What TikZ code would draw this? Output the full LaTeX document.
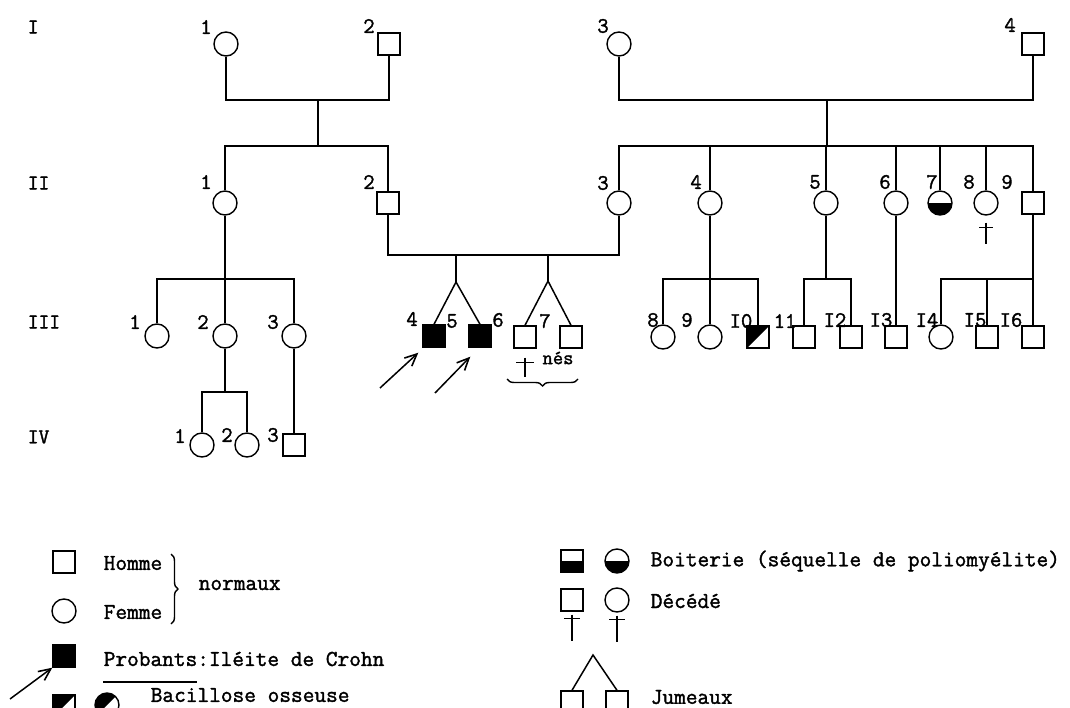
\documentclass[tikz,border=0pt]{standalone}
\usepackage{fontspec}
\newfontfamily\twfont[FakeBold=1.6]{Latin Modern Mono}
\usetikzlibrary{arrows.meta,decorations.pathreplacing}
\begin{document}
\begin{tikzpicture}[x=1pt,y=-1pt,line width=1.5pt,
  fem/.style={circle,draw,minimum size=24pt,inner sep=0pt,line width=1.4pt},
  mal/.style={rectangle,draw,minimum size=22pt,inner sep=0pt,line width=1.4pt},
  aff/.style={fill=black},
  halfb/.style={path picture={\fill (path picture bounding box.west) rectangle (path picture bounding box.south east);}},
  diag/.style={path picture={\fill (path picture bounding box.south west) -- (path picture bounding box.north west) -- (path picture bounding box.north east) -- cycle;}},
  num/.style={font=\fontsize{22}{22}\selectfont\twfont,inner sep=0pt},
  gen/.style={font=\fontsize{21}{21}\selectfont\twfont,inner sep=0pt,anchor=west},
  leg/.style={font=\fontsize{22.7}{22.7}\selectfont\twfont,inner sep=0pt,anchor=west},
  probarrow/.style={-{Straight Barb[length=12pt,width=11pt,line width=1.6pt]},line width=1.5pt},
  brc/.style={decorate,decoration={brace,amplitude=7pt},line width=1.4pt},
]
\useasboundingbox (0,0) rectangle (1070,708);

% generation labels
\node[gen] (gI) at (27,27) {I};
\node[gen] (gII) at (27,183) {II};
\node[gen] (gIII) at (27,322) {III};
\node[gen] (gIV) at (27,437) {IV};

% generation I
\node[fem] (I1) at (226,44) {};
\node[mal] (I2) at (389,44) {};
\node[fem] (I3) at (619,44) {};
\node[mal] (I4) at (1033,44) {};
\node[num] (lI1) at (206,27) {1};
\node[num] (lI2) at (369,26) {2};
\node[num] (lI3) at (603,26) {3};
\node[num] (lI4) at (1010,25) {4};

% generation II
\node[fem] (II1) at (225,203) {};
\node[mal] (II2) at (388,203) {};
\node[fem] (II3) at (619,203) {};
\node[fem] (II4) at (710,203) {};
\node[fem] (II5) at (826,203) {};
\node[fem] (II6) at (896,203) {};
\node[fem,halfb] (II7) at (940,203) {};
\node[fem] (II8) at (986,203) {};
\node[mal] (II9) at (1033,203) {};
\node[num] (lII1) at (206,182) {1};
\node[num] (lII2) at (369,182) {2};
\node[num] (lII3) at (603,183) {3};
\node[num] (lII4) at (696,182) {4};
\node[num] (lII5) at (815,182) {5};
\node[num] (lII6) at (885,182) {6};
\node[num] (lII7) at (932,182) {7};
\node[num] (lII8) at (969,182) {8};
\node[num] (lII9) at (1007,182) {9};

% generation III
\node[fem] (III1) at (157,336) {};
\node[fem] (III2) at (225,336) {};
\node[fem] (III3) at (294,336) {};
\node[mal,aff] (III4) at (434,336) {};
\node[mal,aff] (III5) at (480,336) {};
\node[mal] (III6) at (525,337) {};
\node[mal] (III7) at (571,337) {};
\node[fem] (III8) at (663,337) {};
\node[fem] (III9) at (710,337) {};
\node[mal,diag] (III10) at (758,337) {};
\node[mal] (III11) at (804,337) {};
\node[mal] (III12) at (851,337) {};
\node[mal] (III13) at (896,337) {};
\node[fem] (III14) at (941,337) {};
\node[mal] (III15) at (987,337) {};
\node[mal] (III16) at (1033,337) {};
\node[num] (lIII1) at (135,322) {1};
\node[num] (lIII2) at (203,322) {2};
\node[num] (lIII3) at (273,322) {3};
\node[num] (lIII4) at (412,319) {4};
\node[num] (lIII5) at (452,321) {5};
\node[num] (lIII6) at (498,320) {6};
\node[num] (lIII7) at (545,321) {7};
\node[num] (lIII8) at (653,320) {8};
\node[num] (lIII9) at (687,320) {9};
\node[num] (lIII10) at (741,321) {I0};
\node[num] (lIII11) at (785,321) {11};
\node[num] (lIII12) at (835,320) {I2};
\node[num] (lIII13) at (881,320) {I3};
\node[num] (lIII14) at (927,320) {I4};
\node[num] (lIII15) at (975,320) {I5};
\node[num] (lIII16) at (1011,320) {I6};

% generation IV
\node[fem] (IV1) at (202,445) {};
\node[fem] (IV2) at (247,445) {};
\node[mal] (IV3) at (294,445) {};
\node[num] (lIV1) at (180,436) {1};
\node[num] (lIV2) at (227,435) {2};
\node[num] (lIV3) at (273,435) {3};

% ---- connectors
\coordinate (m1) at (318,100);
\coordinate (s1) at (318,146);
\draw (I1) |- (m1) -| (I2);
\draw (m1) -- (s1);
\draw (II1) |- (s1) -| (II2);

\coordinate (m2) at (827,100);
\coordinate (s2) at (827,146);
\draw (I3) |- (m2) -| (I4);
\draw (m2) -- (s2);
\draw (II3) |- (s2) -| (II9);
\foreach \c in {II4,II5,II6,II7,II8} \draw (\c) -- (\c |- s2);

% marriage II2 x II3 and twins
\coordinate (t1) at (456,255);
\coordinate (t2) at (548,255);
\draw (II2) |- (t1) -- (t2) -| (II3);
\coordinate (a1) at (456,282);
\coordinate (a2) at (548,281);
\draw (t1) -- (a1);
\draw (t2) -- (a2);
\draw (III4.north) -- (a1) -- (III5.north);
\draw (III6.north) -- (a2) -- (III7.north);

% II1 children
\coordinate (s3) at (225,279);
\draw (II1) -- (III2);
\draw (III1) |- (s3) -| (III3);
% III2 children
\coordinate (s4) at (225,392);
\draw (III2) -- (s4);
\draw (IV1) |- (s4) -| (IV2);
\draw (III3) -- (IV3);

% II4 children
\coordinate (s5) at (710,279);
\draw (II4) -- (III9);
\draw (III8) |- (s5) -| (III10);
% II5 children
\coordinate (s6) at (826,279);
\draw (II5) -- (s6);
\draw (III11) |- (s6) -| (III12);
% II6 child
\draw (II6) -- (III13);
% II9 children
\coordinate (s7) at (1033,279);
\draw (II9) -- (III16);
\draw (III14) |- (s7);
\draw (III15) -- (III15 |- s7);

% deceased crosses
\draw ([yshift=-7pt]II8.south) -- ++(0,21);
\draw ([yshift=-12pt]II8.south) ++(-7,0) -- ++(14,0);
\draw ([yshift=-9pt]III6.south) -- ++(0,19);
\draw ([yshift=-14pt]III6.south) ++(-9,0) -- ++(18,0);
\node[num,font=\fontsize{20}{20}\selectfont\twfont] (nes) at (558,358) {nés};
\coordinate (b1) at (507,379);
\coordinate (b2) at (578,379);
\draw[brc,decoration={mirror}] (b1) -- (b2);

% proband arrows
\coordinate (pa1) at (380,388);
\coordinate (pa2) at (435,393);
\draw[probarrow] (pa1) -- ([shift={(-4pt,-5pt)}]III4.south west);
\draw[probarrow] (pa2) -- ([shift={(2pt,-9pt)}]III5.south west);

% ---- legend left
\node[mal] (LH) at (64,562) {};
\node[leg] (LHt) at (103,563) {Homme};
\node[fem] (LF) at (64,611) {};
\node[leg] (LFt) at (103,612) {Femme};
\coordinate (br1) at (171,554);
\coordinate (br2) at (171,624);
\draw[brc] (br1) -- (br2);
\node[leg] (LN) at (198,585) {normaux};
\node[mal,aff] (LP) at (64,656) {};
\node[leg] (LPt) at (103,659) {Probants:Iléite de Crohn};
\draw ([yshift=-15pt]LPt.south west) -- ++(94,0);
\coordinate (lpa) at (10,699);
\draw[probarrow] (lpa) -- (LP.south west);
\node[mal,diag] (LB1) at (64,706) {};
\node[fem,diag] (LB2) at (107,705) {};
\node[leg] (LBt) at (150,695) {Bacillose osseuse};

% ---- legend right
\node[mal,halfb] (LR1) at (572,561) {};
\node[fem,halfb] (LR2) at (617,561) {};
\node[leg] (LRt) at (650,561) {Boiterie (séquelle de poliomyélite)};
\node[mal] (LD1) at (572,600) {};
\node[fem] (LD2) at (617,600) {};
\draw ([yshift=-3pt]LD1.south) -- ++(0,26);
\draw ([yshift=-7pt]LD1.south) ++(-8,0) -- ++(16,0);
\draw ([yshift=-3pt]LD2.south) -- ++(0,26);
\draw ([yshift=-7pt]LD2.south) ++(-8,0) -- ++(16,0);
\node[leg] (LDt) at (650,601) {Décédé};
\node[mal] (LJ1) at (572,702) {};
\node[mal] (LJ2) at (617,702) {};
\coordinate (ja) at (593,655);
\draw (LJ1.north) -- (ja) -- (LJ2.north);
\node[leg] (LJt) at (650,697) {Jumeaux};
\end{tikzpicture}
\end{document}
